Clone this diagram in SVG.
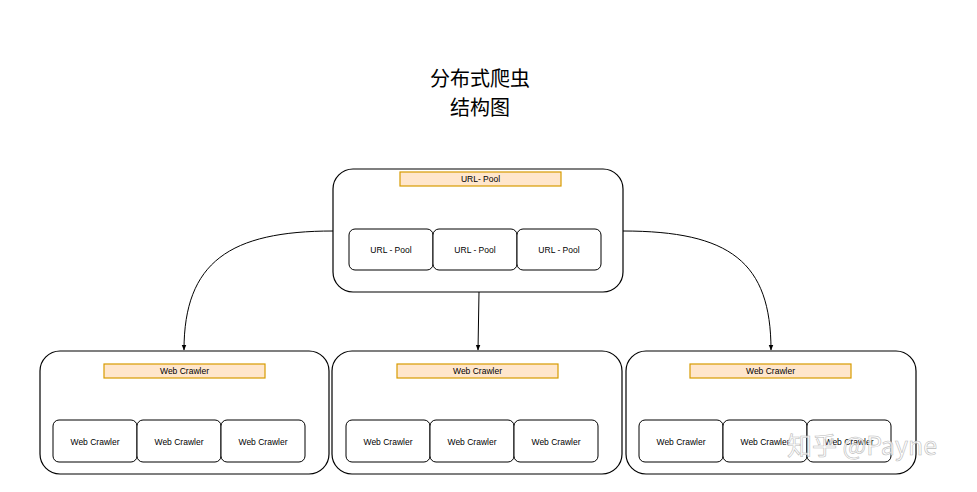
<svg xmlns="http://www.w3.org/2000/svg" width="977" height="492" viewBox="0 0 977 492">
<style>
.c{fill:#fff;stroke:#000;stroke-width:1.2}
.l{fill:#ffe6cc;stroke:#d79b00;stroke-width:1.2}
.i{fill:#fff;stroke:#000;stroke-width:1}
text{font-family:"Liberation Sans",Arial,sans-serif;font-size:8.5px;text-anchor:middle;fill:#000}
.t{font-family:"Noto Sans CJK SC",sans-serif;font-size:20px}
.e{fill:none;stroke:#000;stroke-width:1}
</style>
<defs><marker id="a" viewBox="0 0 10 10" refX="9" refY="5" markerWidth="6" markerHeight="6" orient="auto"><path d="M0 1L10 5L0 9z" fill="#000"/></marker></defs>
<rect width="977" height="492" fill="#fff"/>
<text class="t" x="480" y="86">分布式爬虫</text>
<text class="t" x="480" y="115">结构图</text>
<g id="connectors">
<path class="e" d="M333 231C230 231 184 262 184 350" marker-end="url(#a)"/>
<path class="e" d="M623 231C730 231 771 262 771 350" marker-end="url(#a)"/>
<path class="e" d="M479 292L478 350" marker-end="url(#a)"/>
</g>
<g id="pool">
<rect class="c" x="333" y="169" width="290" height="123" rx="20"/>
<rect class="l" x="400" y="172" width="161" height="14"/><text x="480.5" y="182">URL- Pool</text>
<rect class="i" x="349" y="229" width="84" height="41" rx="6"/><text x="391" y="253">URL - Pool</text>
<rect class="i" x="433" y="229" width="84" height="41" rx="6"/><text x="475" y="253">URL - Pool</text>
<rect class="i" x="517" y="229" width="84" height="41" rx="6"/><text x="559" y="253">URL - Pool</text>
</g>
<g id="crawler1">
<rect class="c" x="40" y="351" width="289" height="123" rx="20"/>
<rect class="l" x="104" y="364" width="161" height="14"/><text x="184.5" y="374">Web Crawler</text>
<rect class="i" x="53" y="420" width="84" height="42" rx="6"/><text x="95" y="445">Web Crawler</text>
<rect class="i" x="137" y="420" width="84" height="42" rx="6"/><text x="179" y="445">Web Crawler</text>
<rect class="i" x="221" y="420" width="84" height="42" rx="6"/><text x="263" y="445">Web Crawler</text>
</g>
<g id="crawler2">
<rect class="c" x="332" y="351" width="290" height="123" rx="20"/>
<rect class="l" x="397" y="364" width="161" height="14"/><text x="477.5" y="374">Web Crawler</text>
<rect class="i" x="346" y="420" width="84" height="42" rx="6"/><text x="388" y="445">Web Crawler</text>
<rect class="i" x="430" y="420" width="84" height="42" rx="6"/><text x="472" y="445">Web Crawler</text>
<rect class="i" x="514" y="420" width="84" height="42" rx="6"/><text x="556" y="445">Web Crawler</text>
</g>
<g id="crawler3">
<rect class="c" x="626" y="351" width="290" height="123" rx="20"/>
<rect class="l" x="690" y="364" width="161" height="14"/><text x="770.5" y="374">Web Crawler</text>
<rect class="i" x="639" y="420" width="84" height="42" rx="6"/><text x="681" y="445">Web Crawler</text>
<rect class="i" x="723" y="420" width="84" height="42" rx="6"/><text x="765" y="445">Web Crawler</text>
<rect class="i" x="807" y="420" width="84" height="42" rx="6"/><text x="849" y="445">Web Crawler</text>
</g>
<text x="862" y="455" style="font-family:'Noto Sans CJK SC',sans-serif;font-size:25px;fill:#fff;fill-opacity:0.75;stroke:#bbb;stroke-width:0.6">知乎 @Payne</text>
</svg>
